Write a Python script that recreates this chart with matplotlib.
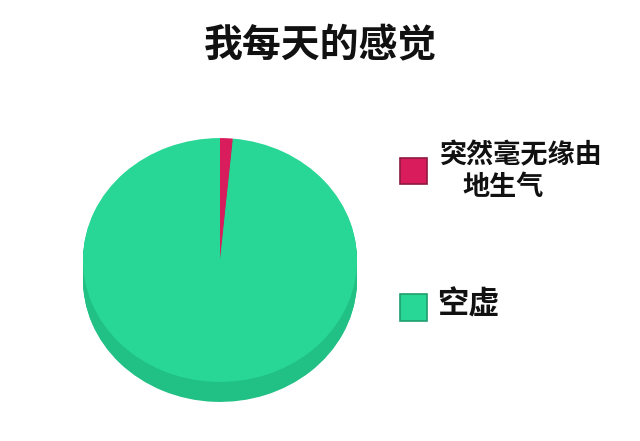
import matplotlib
matplotlib.use("Agg")
import matplotlib.pyplot as plt
from matplotlib.patches import Rectangle
from matplotlib.transforms import Affine2D

plt.rcParams['font.family'] = ['Noto Sans CJK SC', 'DejaVu Sans']

title = "我每天的感觉"
labels = ["突然毫无缘由\n地生气", "空虚"]
values = [1.5, 98.5]
colors = ["#d91c5c", "#28d795"]
side_colors = ["#b8164c", "#21c085"]
edge_colors = ["#8e1a3f", "#1f9e6e"]

W, H = 640, 441
fig = plt.figure(figsize=(W / 100, H / 100), dpi=100)
ax = fig.add_axes([0, 0, 1, 1])

cx, cy_px, r = 220, 260, 137
cy = H - cy_px
k = 0.89
depth = 20

def squash(yshift):
    return (Affine2D().translate(-cx, -cy).scale(1, k).translate(cx, cy - yshift)
            + ax.transData)

# side of the disc (stacked layers)
for d in range(depth, 0, -1):
    wedges, _ = ax.pie(values, colors=side_colors, startangle=90, counterclock=False,
                       radius=r, center=(cx, cy), frame=True,
                       wedgeprops=dict(linewidth=0))
    for w in wedges:
        w.set_transform(squash(d))
        w.set_zorder(1)

# top face
wedges, _ = ax.pie(values, colors=colors, startangle=90, counterclock=False,
                   radius=r, center=(cx, cy), frame=True,
                   wedgeprops=dict(linewidth=0))
for w in wedges:
    w.set_transform(squash(0))
    w.set_zorder(2)

ax.set_xlim(0, W)
ax.set_ylim(0, H)
ax.set_aspect('auto')
ax.axis('off')

fig.text(0.5, 1 - 46 / H, title, ha='center', va='center',
         fontsize=28, fontweight='bold', color='#111111')

# legend drawn manually
sq = [(400, 158, 27, 26), (400, 294, 27, 27)]
for (x, y, w, h), c, ec in zip(sq, colors, edge_colors):
    ax.add_patch(Rectangle((x, H - y - h), w, h, facecolor=c, edgecolor=ec,
                           linewidth=1.2, zorder=3))

l1, l2 = labels[0].split("\n")
ax.text(440, H - 155, l1, ha='left', va='center', fontsize=19.5,
        fontweight='bold', color='#111111')
ax.text(462, H - 187, l2, ha='left', va='center', fontsize=19.5,
        fontweight='bold', color='#111111')
ax.text(437, H - 305, labels[1], ha='left', va='center', fontsize=22.5,
        fontweight='bold', color='#111111')

fig.savefig("out.png", dpi=100, facecolor='white')
